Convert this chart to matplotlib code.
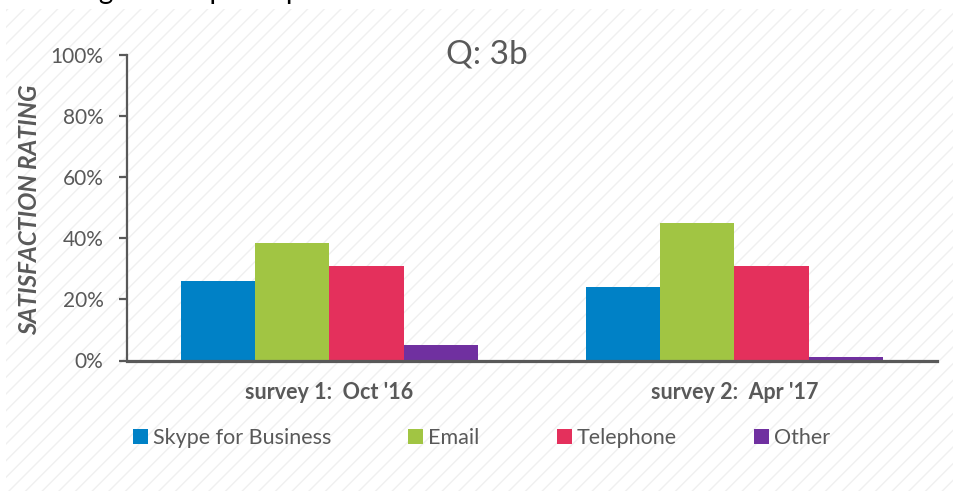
import matplotlib
matplotlib.use("Agg")
import matplotlib.pyplot as plt
import numpy as np
from matplotlib.patches import Rectangle

# Survey results (percent satisfied) by contact channel
categories = ["survey 1:  Oct '16", "survey 2:  Apr '17"]
series_names = ["Skype for Business", "Email", "Telephone", "Other"]
skype = [25.9, 24.2]
email = [38.6, 44.9]
telephone = [30.8, 31.0]
other = [5.1, 1.0]
y_ticks = [0, 20, 40, 60, 80, 100]
y_tick_labels = ["0%", "20%", "40%", "60%", "80%", "100%"]
colors = ["#0081C6", "#A1C543", "#E4305C", "#7030A0"]
text_grey = "#595959"

plt.rcParams["font.family"] = ["Lato", "DejaVu Sans"]
plt.rcParams["hatch.linewidth"] = 1.0

W, H = 954, 491
fig = plt.figure(figsize=(W / 100, H / 100), dpi=100)

# striped slide background
bg = Rectangle((6 / W, 0), 1, 1 - 9 / H, transform=fig.transFigure,
               facecolor="white", edgecolor="#f0f0f0", hatch="//",
               linewidth=0, zorder=-10)
fig.patches.append(bg)

# heading text running off the top edge
fig.text(30 / W, 1 + 0.5 / H, "Managers and participants", fontsize=20,
         color="black", va="baseline", ha="left")

ax = fig.add_axes([127 / W, 1 - 360.5 / H, 810 / W, 305.5 / H])
ax.patch.set_visible(False)

x = np.arange(len(categories))
w = 0.1833
for i, (vals, name, c) in enumerate(zip([skype, email, telephone, other],
                                        series_names, colors)):
    ax.bar(x + (i - 1.5) * w, vals, w, color=c, label=name, linewidth=0,
           zorder=2)

ax.set_xlim(-0.5, 1.5)
ax.set_ylim(0, 100)
ax.set_yticks(y_ticks)
ax.set_yticklabels(y_tick_labels)
ax.set_xticks(x)
ax.set_xticklabels(categories, fontweight="bold")

for s in ["top", "right"]:
    ax.spines[s].set_visible(False)
ax.spines["left"].set_color(text_grey)
ax.spines["left"].set_linewidth(1.6)
ax.spines["bottom"].set_color(text_grey)
ax.spines["bottom"].set_linewidth(2.3)
ax.spines["bottom"].set_zorder(3)

ax.tick_params(axis="y", direction="out", length=6, width=1.6,
               color=text_grey, labelcolor=text_grey, labelsize=15, pad=11)
ax.tick_params(axis="x", length=0, labelcolor=text_grey, labelsize=15.5,
               pad=15.5)

ax.set_ylabel("SATISFACTION RATING", fontsize=17.5, fontweight="bold",
              fontstyle="italic", color=text_grey)
ax.yaxis.set_label_coords(-86 / 810, 0.493)

fig.text(487 / W, 1 - 54 / H, "Q: 3b", fontsize=24, color=text_grey,
         ha="center", va="center")

handles, labels = ax.get_legend_handles_labels()
leg_fs = 15.5
leg_px = leg_fs * 100 / 72
fig.legend(handles, labels, loc="center left",
           bbox_to_anchor=(133 / W, 1 - 438.5 / H), ncol=4, frameon=False,
           fontsize=leg_fs, labelcolor=text_grey,
           handlelength=15 / leg_px, handleheight=15 / leg_px,
           handletextpad=5 / leg_px, columnspacing=77 / leg_px,
           borderaxespad=0, borderpad=0)

fig.savefig("out.png", dpi=100)
